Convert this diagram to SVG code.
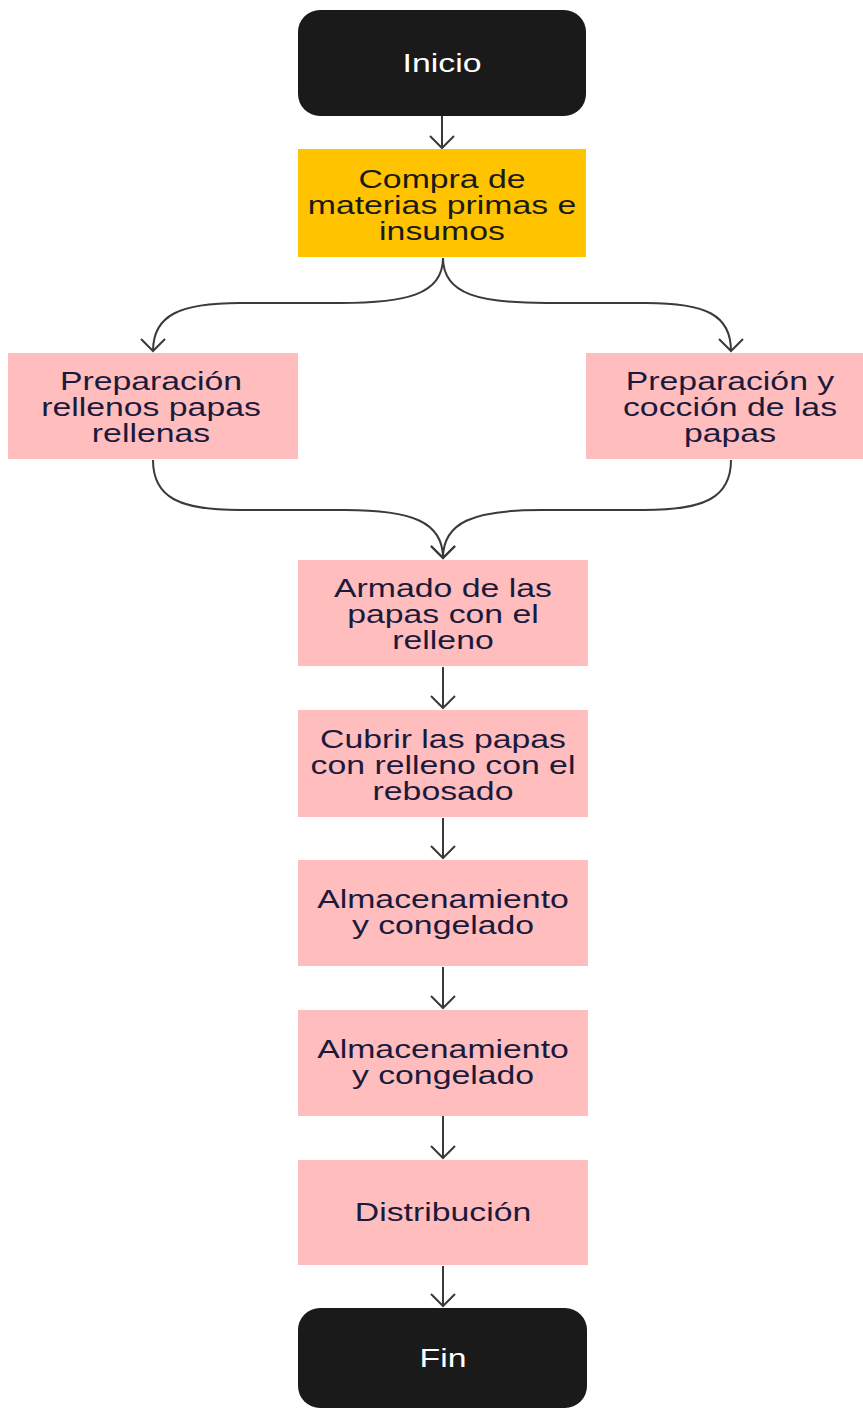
<svg xmlns="http://www.w3.org/2000/svg" width="863" height="1410" viewBox="0 0 863 1410">
<style>
  .term { fill: #1a1a1a; }
  .start { fill: #ffc300; }
  .proc { fill: #ffbdbd; }
  text { font-family: "Liberation Sans", Arial, sans-serif; font-size: 26px; text-anchor: middle; }
  .tw { fill: #ffffff; }
  .tk { fill: #1a1a1a; }
  .tn { fill: #1c1a3c; }
  .edge { fill: none; stroke: #3a3a3a; stroke-width: 2; }
</style>
<defs>
  <marker id="arr" viewBox="-14 -14 28 28" markerWidth="28" markerHeight="28" refX="0" refY="0" orient="auto" markerUnits="userSpaceOnUse">
    <path d="M-12,-12 L0,0 L-12,12" fill="none" stroke="#3a3a3a" stroke-width="2"/>
  </marker>
</defs>
<rect width="863" height="1410" fill="#ffffff"/>

<g id="connectors">
  <path class="edge" d="M442,116 L442,148" marker-end="url(#arr)"/>
  <path class="edge" d="M443,258 C443,295 405,303 340,303 L240,303 C180,303 153,315 153,351" marker-end="url(#arr)"/>
  <path class="edge" d="M443,258 C443,295 481,303 546,303 L646,303 C706,303 731,315 731,351" marker-end="url(#arr)"/>
  <path class="edge" d="M153,460 C153,498 180,510 240,510 L345,510 C412,510 443,522 443,558" marker-end="url(#arr)"/>
  <path class="edge" d="M731,460 C731,498 704,510 644,510 L541,510 C474,510 443,522 443,558" marker-end="url(#arr)"/>
  <path class="edge" d="M443,667 L443,708" marker-end="url(#arr)"/>
  <path class="edge" d="M443,818 L443,858" marker-end="url(#arr)"/>
  <path class="edge" d="M443,967 L443,1008" marker-end="url(#arr)"/>
  <path class="edge" d="M443,1116 L443,1158" marker-end="url(#arr)"/>
  <path class="edge" d="M443,1266 L443,1306" marker-end="url(#arr)"/>
</g>

<g id="inicio">
  <rect class="term" x="298" y="10" width="288" height="106" rx="22"/>
  <g transform="translate(442,0) scale(1.3,1)"><text class="tw" x="0" y="72">Inicio</text></g>
</g>

<g id="compra">
  <rect class="start" x="298" y="149" width="288" height="108"/>
  <g transform="translate(442,0) scale(1.3,1)">
    <text class="tk" x="0" y="188">Compra de</text>
    <text class="tk" x="0" y="214">materias primas e</text>
    <text class="tk" x="0" y="240">insumos</text>
  </g>
</g>

<g id="rellenos">
  <rect class="proc" x="8" y="353" width="290" height="106"/>
  <g transform="translate(151,0) scale(1.3,1)">
    <text class="tn" x="0" y="390">Preparación</text>
    <text class="tn" x="0" y="416">rellenos papas</text>
    <text class="tn" x="0" y="442">rellenas</text>
  </g>
</g>

<g id="coccion">
  <rect class="proc" x="586" y="353" width="290" height="106"/>
  <g transform="translate(730,0) scale(1.3,1)">
    <text class="tn" x="0" y="390">Preparación y</text>
    <text class="tn" x="0" y="416">cocción de las</text>
    <text class="tn" x="0" y="442">papas</text>
  </g>
</g>

<g id="armado">
  <rect class="proc" x="298" y="560" width="290" height="106"/>
  <g transform="translate(443,0) scale(1.3,1)">
    <text class="tn" x="0" y="597">Armado de las</text>
    <text class="tn" x="0" y="623">papas con el</text>
    <text class="tn" x="0" y="649">relleno</text>
  </g>
</g>

<g id="cubrir">
  <rect class="proc" x="298" y="710" width="290" height="107"/>
  <g transform="translate(443,0) scale(1.3,1)">
    <text class="tn" x="0" y="748">Cubrir las papas</text>
    <text class="tn" x="0" y="774">con relleno con el</text>
    <text class="tn" x="0" y="800">rebosado</text>
  </g>
</g>

<g id="almacenamiento1">
  <rect class="proc" x="298" y="860" width="290" height="106"/>
  <g transform="translate(443,0) scale(1.3,1)">
    <text class="tn" x="0" y="908">Almacenamiento</text>
    <text class="tn" x="0" y="934">y congelado</text>
  </g>
</g>

<g id="almacenamiento2">
  <rect class="proc" x="298" y="1010" width="290" height="106"/>
  <g transform="translate(443,0) scale(1.3,1)">
    <text class="tn" x="0" y="1058">Almacenamiento</text>
    <text class="tn" x="0" y="1084">y congelado</text>
  </g>
</g>

<g id="distribucion">
  <rect class="proc" x="298" y="1160" width="290" height="105"/>
  <g transform="translate(443,0) scale(1.3,1)">
    <text class="tn" x="0" y="1221">Distribución</text>
  </g>
</g>

<g id="fin">
  <rect class="term" x="298" y="1308" width="289" height="100" rx="22"/>
  <g transform="translate(443,0) scale(1.3,1)"><text class="tw" x="0" y="1367">Fin</text></g>
</g>
</svg>
